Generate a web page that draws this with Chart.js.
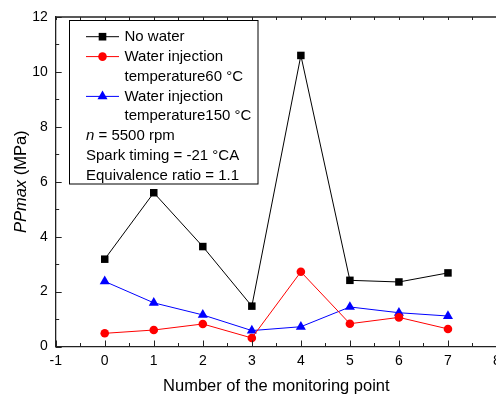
<!DOCTYPE html>
<html>
<head>
<meta charset="utf-8">
<script src="https://cdn.jsdelivr.net/npm/chart.js@4"></script>
<style>
html, body { margin: 0; padding: 0; overflow: hidden; background: #fff; }
#wrap { width: 520px; height: 396px; }
</style>
</head>
<body>
<div id="wrap"><canvas id="pp"></canvas></div>
<script>
// monitoring points and peak pressure (MPa)
const points = [0, 1, 2, 3, 4, 5, 6, 7];
const noWater = [3.18, 5.6, 3.64, 1.47, 10.6, 2.41, 2.35, 2.68];
const water60 = [0.48, 0.6, 0.82, 0.31, 2.72, 0.83, 1.06, 0.64];
const water150 = [2.37, 1.59, 1.15, 0.58, 0.72, 1.44, 1.23, 1.11];

const seriesLabels = [
  ['No water'],
  ['Water injection', 'temperature60 °C'],
  ['Water injection', 'temperature150 °C']
];
const notes = [
  ['n', ' = 5500 rpm'],
  ['', 'Spark timing = -21 °CA'],
  ['', 'Equivalence ratio = 1.1']
];
const xRange = [-1, 8];
const yRange = [0, 12];
const xTitle = 'Number of the monitoring point';
const yTitle = ['PPmax', ' (MPa)'];

const FONT = '"Liberation Sans", Arial, sans-serif';

function xy(vals) {
  return points.map((p, i) => ({ x: p, y: vals[i] }));
}

function marker(ctx, style, r, x, y, color) {
  ctx.fillStyle = color;
  ctx.beginPath();
  if (style === 'rect') {
    ctx.rect(x - r * 0.72, y - r * 0.72, r * 1.44, r * 1.44);
  } else if (style === 'circle') {
    ctx.arc(x, y, r, 0, Math.PI * 2);
  } else {
    ctx.moveTo(x, y - r);
    ctx.lineTo(x + r * 0.866, y + r * 0.5);
    ctx.lineTo(x - r * 0.866, y + r * 0.5);
    ctx.closePath();
  }
  ctx.fill();
}

const frame = {
  id: 'frame',
  afterDraw(chart) {
    const { ctx, chartArea: a, scales: { x, y } } = chart;
    ctx.save();
    ctx.strokeStyle = '#222';
    ctx.lineWidth = 1.3;
    ctx.beginPath();
    ctx.moveTo(a.left, a.top);
    ctx.lineTo(a.right + 2, a.top);
    ctx.stroke();

    ctx.lineWidth = 1;
    ctx.beginPath();
    for (let v = xRange[0]; v <= xRange[1]; v += 0.5) {
      const px = Math.round(x.getPixelForValue(v)) + 0.5;
      const len = Number.isInteger(v) ? 6 : 3.5;
      ctx.moveTo(px, a.bottom);
      ctx.lineTo(px, a.bottom - len);
      ctx.moveTo(px, a.top);
      ctx.lineTo(px, a.top + 3);
    }
    for (let v = yRange[0]; v <= yRange[1]; v += 1) {
      const py = Math.round(y.getPixelForValue(v)) + 0.5;
      const len = v % 2 === 0 ? 6 : 3.5;
      ctx.moveTo(a.left, py);
      ctx.lineTo(a.left + len, py);
    }
    ctx.stroke();

    // y title with italic part
    ctx.fillStyle = '#000';
    ctx.textBaseline = 'middle';
    const f1 = 'italic 16.5px ' + FONT, f2 = '16.5px ' + FONT;
    ctx.font = f1;
    const w1 = ctx.measureText(yTitle[0]).width;
    ctx.font = f2;
    const w2 = ctx.measureText(yTitle[1]).width;
    ctx.translate(21, (a.top + a.bottom) / 2);
    ctx.rotate(-Math.PI / 2);
    ctx.textAlign = 'left';
    ctx.font = f1;
    ctx.fillText(yTitle[0], -(w1 + w2) / 2, 0);
    ctx.font = f2;
    ctx.fillText(yTitle[1], -(w1 + w2) / 2 + w1, 0);
    ctx.restore();

    // legend box
    ctx.save();
    ctx.fillStyle = '#fff';
    ctx.fillRect(69.5, 20.5, 188.5, 163.5);
    ctx.strokeStyle = '#000';
    ctx.lineWidth = 1;
    ctx.strokeRect(69.5, 20.5, 188.5, 163.5);
    ctx.textBaseline = 'middle';
    ctx.textAlign = 'left';
    ctx.font = '15px ' + FONT;
    const rowY = i => 36.7 + i * 19.9;
    let row = 0;
    chart.data.datasets.forEach((ds, i) => {
      const ry = rowY(row);
      ctx.strokeStyle = ds.borderColor;
      ctx.beginPath();
      ctx.moveTo(86, ry);
      ctx.lineTo(119, ry);
      ctx.stroke();
      marker(ctx, ds.pointStyle, ds.pointRadius, 102.5, ry, ds.borderColor);
      ctx.fillStyle = '#000';
      seriesLabels[i].forEach(t => {
        ctx.fillText(t, 124.5, rowY(row));
        row++;
      });
    });
    notes.forEach(([it, rest]) => {
      const ry = rowY(row);
      let tx = 86;
      if (it) {
        ctx.font = 'italic 15px ' + FONT;
        ctx.fillText(it, tx, ry);
        tx += ctx.measureText(it).width;
      }
      ctx.font = '15px ' + FONT;
      ctx.fillText(rest, tx, ry);
      row++;
    });
    ctx.restore();
  }
};

new Chart(document.getElementById('pp'), {
  type: 'scatter',
  data: {
    datasets: [{
      label: seriesLabels[0].join(' '),
      data: xy(noWater),
      showLine: true,
      borderColor: '#000',
      backgroundColor: '#000',
      borderWidth: 1,
      pointStyle: 'rect',
      pointRadius: 5.3,
      pointBorderWidth: 0
    }, {
      label: seriesLabels[1].join(' '),
      data: xy(water60),
      showLine: true,
      borderColor: '#ff0000',
      backgroundColor: '#ff0000',
      borderWidth: 1,
      pointStyle: 'circle',
      pointRadius: 4.3,
      pointBorderWidth: 0
    }, {
      label: seriesLabels[2].join(' '),
      data: xy(water150),
      showLine: true,
      borderColor: '#0000ff',
      backgroundColor: '#0000ff',
      borderWidth: 1,
      pointStyle: 'triangle',
      pointRadius: 5.8,
      pointBorderWidth: 0
    }]
  },
  options: {
    responsive: true,
    maintainAspectRatio: false,
    animation: false,
    clip: false,
    layout: { padding: { left: 0, right: 23, top: 17, bottom: 0 } },
    plugins: { legend: { display: false }, tooltip: { enabled: false } },
    scales: {
      x: {
        type: 'linear',
        min: xRange[0], max: xRange[1],
        afterFit: s => { s.height = 49.5; },
        ticks: { stepSize: 1, padding: 6, color: '#000', font: { family: FONT, size: 14 } },
        grid: { display: false, drawTicks: false },
        border: { display: true, color: '#222', width: 1.3 },
        title: { display: true, text: xTitle, color: '#000', padding: 0, font: { family: FONT, size: 16.5 } }
      },
      y: {
        min: yRange[0], max: yRange[1],
        afterFit: s => { s.width = 55.7; },
        ticks: { stepSize: 2, padding: 8, color: '#000', font: { family: FONT, size: 14 } },
        grid: { display: false, drawTicks: false },
        border: { display: true, color: '#222', width: 1.3 }
      }
    }
  },
  plugins: [frame]
});
</script>
</body>
</html>
